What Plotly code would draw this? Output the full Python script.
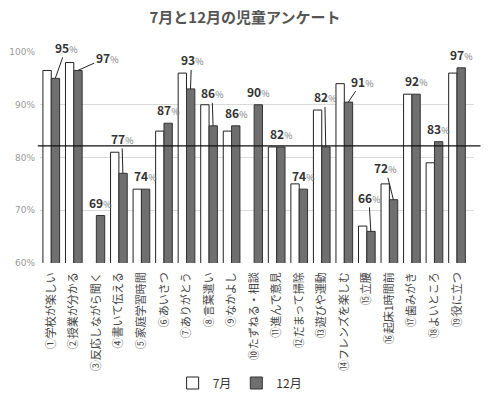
import plotly.graph_objects as go

categories = ["①学校が楽しい", "②授業が分かる", "③反応しながら聞く", "④書いて伝える", "⑤家庭学習時間",
              "⑥あいさつ", "⑦ありがとう", "⑧言葉遣い", "⑨なかよし", "⑩たずねる・相談",
              "⑪進んで意見", "⑫だまって掃除", "⑬遊びや運動", "⑭フレンズを楽しむ", "⑮立腰",
              "⑯起床1時間前", "⑰歯みがき", "⑱よいところ", "⑲役に立つ"]
july = [96.5, 98, None, 81, 74, 85, 96, 90, 85, None, 82, 75, 89, 94, 67, 75, 92, 79, 96]
december = [95, 96.5, 69, 77, 74, 86.5, 93, 86, 86, 90, 82, 74, 82, 90.5, 66, 72, 92, 83, 97]
december_labels = [95, 97, 69, 77, 74, 87, 93, 86, 86, 90, 82, 74, 82, 91, 66, 72, 92, 83, 97]
reference_line = 82.2
y_ticks = [60, 70, 80, 90, 100]
y_tick_text = ["60%", "70%", "80%", "90%", "100%"]

# label leader offsets (pixels): labels not listed sit directly above their bar
leader = {0: (11, -31), 1: (29, -13), 3: (-1, -35), 6: (1, -29), 7: (-1, -33),
          12: (-1, -50), 13: (14, -21), 14: (-2, -34), 15: (-8, -32)}

FONT = "Noto Sans CJK JP"

fig = go.Figure()
fig.add_trace(go.Bar(name="7月", x=categories, y=july,
                     marker=dict(color="white", line=dict(color="#222", width=1))))
fig.add_trace(go.Bar(name="12月", x=categories, y=december,
                     marker=dict(color="#6f6f6f", line=dict(color="#333", width=1))))

for i, (c, v, lab) in enumerate(zip(categories, december, december_labels)):
    txt = f"<b>{lab}</b><span style='font-size:9px;color:#777'>%</span>"
    if i in leader:
        ax, ay = leader[i]
        fig.add_annotation(x=c, y=v, xshift=4, text=txt, showarrow=True, arrowhead=0,
                           arrowwidth=1, arrowcolor="#222", ax=ax, ay=ay, standoff=0,
                           font=dict(family=FONT, size=12, color="#333"))
    else:
        fig.add_annotation(x=c, y=v, xshift=4, yshift=3, text=txt, showarrow=False,
                           yanchor="bottom", font=dict(family=FONT, size=12, color="#333"))

fig.add_shape(type="line", xref="paper", yref="y", x0=-0.005, x1=1.015,
              y0=reference_line, y1=reference_line, line=dict(color="#111", width=1.2))

fig.update_layout(
    width=490, height=399,
    margin=dict(l=40, r=16, t=52, b=136, autoexpand=False),
    paper_bgcolor="white", plot_bgcolor="white",
    barmode="group", bargap=0.26, bargroupgap=0,
    title=dict(text="<b>7月と12月の児童アンケート</b>", x=0.5, xanchor="center",
               y=0.955, yanchor="middle",
               font=dict(family=FONT, size=15, color="#555")),
    font=dict(family=FONT, color="#444"),
    showlegend=True,
    legend=dict(orientation="h", x=0.46, xanchor="center", y=-0.5, yanchor="top",
                font=dict(family=FONT, size=12, color="#333"), itemwidth=30,
                traceorder="normal", tracegroupgap=0),
    xaxis=dict(tickangle=-90, tickfont=dict(family=FONT, size=11, color="#444"),
               showline=False, ticks="", showgrid=False, ticklabelstandoff=6,
               automargin=False),
    yaxis=dict(range=[60, 100], tickvals=y_ticks, ticktext=y_tick_text, tickmode="array",
               tickfont=dict(family="DejaVu Sans", size=9, color="#999"),
               showgrid=True, gridcolor="#d9d9d9", gridwidth=1, zeroline=False,
               showline=False, ticks="", ticklabelstandoff=4, automargin=False),
)

fig.write_html("out.html", config={"displayModeBar": False},
               post_script="document.body.style.margin='0';document.body.style.overflow='hidden';")
